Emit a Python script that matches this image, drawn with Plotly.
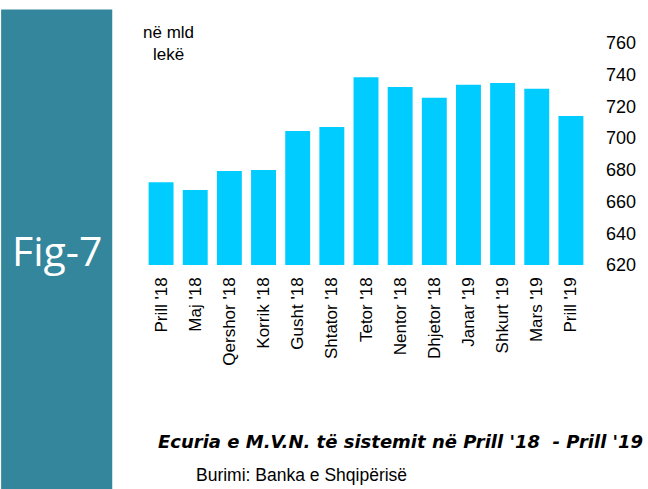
import plotly.graph_objects as go

categories = ["Prill '18", "Maj '18", "Qershor '18", "Korrik '18", "Gusht '18", "Shtator '18",
              "Tetor '18", "Nentor '18", "Dhjetor '18", "Janar '19", "Shkurt '19", "Mars '19", "Prill '19"]
values = [672.2, 667.3, 679.3, 679.9, 704.5, 707.1, 738.4, 732.3, 725.4, 733.6, 734.8, 731.2, 714.0]
y_ticks = [620, 640, 660, 680, 700, 720, 740, 760]

W, H = 648, 489
L, R, T, B = 144, 591.5, 43, 265

def px(x):
    return (x - L) / (R - L)

def py(y):
    return (B - y) / (B - T)

FONT = "Liberation Sans, Arial, sans-serif"

fig = go.Figure(go.Bar(x=categories, y=values, marker=dict(color="#00CCFF", line=dict(width=0))))
fig.update_layout(
    width=W, height=H,
    margin=dict(l=L, r=W - R, t=T, b=H - B),
    paper_bgcolor="white", plot_bgcolor="white",
    bargap=0.27,
    showlegend=False,
    font=dict(family=FONT, color="black"),
)
fig.update_xaxes(tickangle=-90, tickfont=dict(size=17, family=FONT, color="black"),
                 showline=False, showgrid=False, ticks="", ticklabelstandoff=8)
fig.update_yaxes(side="right", range=[620, 760], tickvals=y_ticks, showgrid=False, zeroline=False,
                 showline=False, ticks="", tickfont=dict(size=18, family=FONT, color="black"),
                 ticklabelstandoff=17)

fig.add_shape(type="rect", xref="paper", yref="paper",
              x0=px(0), x1=px(112), y0=py(489), y1=py(9.5),
              fillcolor="#33869B", line=dict(width=0), layer="below")

fig.add_annotation(xref="paper", yref="paper", x=px(56), y=py(250), text="Fig-7", showarrow=False,
                   font=dict(family="Open Sans, sans-serif", size=41, color="white"),
                   xanchor="center", yanchor="middle")
fig.add_annotation(xref="paper", yref="paper", x=px(169), y=py(44), text="në mld<br>lekë", showarrow=False,
                   font=dict(family=FONT, size=17, color="black"), xanchor="center", yanchor="middle")
fig.add_annotation(xref="paper", yref="paper", x=px(156), y=py(441),
                   text="<b><i>Ecuria e M.V.N. të sistemit në Prill '18  - Prill '19</i></b>", showarrow=False,
                   font=dict(family="DejaVu Sans, sans-serif", size=18, color="black"),
                   xanchor="left", yanchor="middle")
fig.add_annotation(xref="paper", yref="paper", x=px(194), y=py(475),
                   text="Burimi: Banka e Shqipërisë", showarrow=False,
                   font=dict(family=FONT, size=17.5, color="black"), xanchor="left", yanchor="middle")

fig.write_html("out.html", config={"displayModeBar": False},
               post_script="document.body.style.margin='0';document.body.style.overflow='hidden';")
